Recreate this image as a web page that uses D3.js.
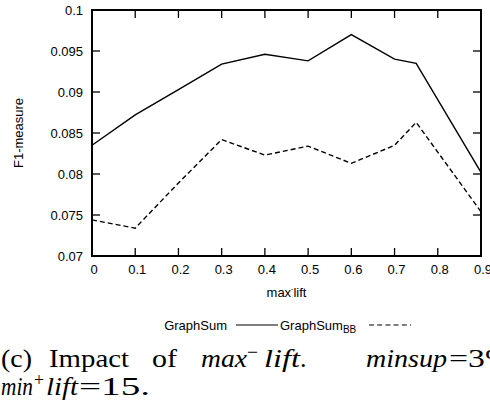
<!DOCTYPE html>
<html><head><meta charset="utf-8">
<script src="https://cdn.jsdelivr.net/npm/d3@7"></script>
<style>
html,body{margin:0;padding:0;background:#fff;overflow:hidden;}
svg{display:block;}
</style></head>
<body>
<script>
const xValues = [0, 0.1, 0.2, 0.3, 0.4, 0.5, 0.6, 0.7, 0.75, 0.9];
const graphSum = [0.0835, 0.0872, 0.0903, 0.0934, 0.0946, 0.0938, 0.0970, 0.0940, 0.0935, 0.0802];
const graphSumBB = [0.0744, 0.0734, 0.0789, 0.0842, 0.0823, 0.0834, 0.0813, 0.0835, 0.0863, 0.0754];
const xTicks = [0, 0.1, 0.2, 0.3, 0.4, 0.5, 0.6, 0.7, 0.8, 0.9];
const xTickLabels = ["0", "0.1", "0.2", "0.3", "0.4", "0.5", "0.6", "0.7", "0.8", "0.9"];
const yTicks = [0.07, 0.075, 0.08, 0.085, 0.09, 0.095, 0.1];
const yTickLabels = ["0.07", "0.075", "0.08", "0.085", "0.09", "0.095", "0.1"];

const W = 490, H = 407;
const m = {left: 92, right: 9, top: 10, bottom: 151};
const svg = d3.select("body").append("svg").attr("width", W).attr("height", H);
const x = d3.scaleLinear().domain([0, 0.9]).range([m.left, W - m.right]);
const y = d3.scaleLinear().domain([0.07, 0.1]).range([H - m.bottom, m.top]);
const sans = "'Liberation Sans', Arial, sans-serif";
const serif = "'Liberation Serif', 'Times New Roman', serif";
const tickLen = 8;

const axB = d3.axisBottom(x).tickValues(xTicks).tickSize(0).tickFormat((d,i)=>xTickLabels[i]);
const axL = d3.axisLeft(y).tickValues(yTicks).tickSize(0).tickFormat((d,i)=>yTickLabels[i]);
const gB = svg.append("g").attr("transform", `translate(0,${y(0.07)})`).call(axB);
gB.select(".domain").remove();
gB.selectAll("text").attr("font-family", sans).attr("font-size", 13).attr("fill", "#000").attr("dy", null).attr("y", 18).attr("x", 1.5);
const gL = svg.append("g").attr("transform", `translate(${x(0)},0)`).call(axL);
gL.select(".domain").remove();
gL.selectAll("text").attr("font-family", sans).attr("font-size", 13).attr("fill", "#000").attr("x", -9).attr("dy", "0.35em");

const ticks = svg.append("g").attr("stroke", "#000").attr("stroke-width", 1.3);
xTicks.forEach(v => {
  ticks.append("line").attr("x1", x(v)).attr("x2", x(v)).attr("y1", y(0.07)).attr("y2", y(0.07) - tickLen);
  ticks.append("line").attr("x1", x(v)).attr("x2", x(v)).attr("y1", y(0.1)).attr("y2", y(0.1) + tickLen);
});
yTicks.forEach(v => {
  ticks.append("line").attr("x1", x(0)).attr("x2", x(0) + tickLen).attr("y1", y(v)).attr("y2", y(v));
  ticks.append("line").attr("x1", x(0.9)).attr("x2", x(0.9) - tickLen).attr("y1", y(v)).attr("y2", y(v));
});

const line = d3.line().x((d,i)=>x(xValues[i])).y(d=>y(d));
svg.append("path").datum(graphSum).attr("d", line).attr("fill", "none").attr("stroke", "#000").attr("stroke-width", 1.4);
svg.append("path").datum(graphSumBB).attr("d", line).attr("fill", "none").attr("stroke", "#000").attr("stroke-width", 1.4).attr("stroke-dasharray", "5,3");

svg.append("rect").attr("x", x(0)).attr("y", y(0.1)).attr("width", x(0.9) - x(0)).attr("height", y(0.07) - y(0.1))
  .attr("fill", "none").attr("stroke", "#000").attr("stroke-width", 2);

const xt = svg.append("text").attr("x", (x(0)+x(0.9))/2).attr("y", 297).attr("text-anchor", "middle")
  .attr("font-family", sans).attr("font-size", 13);
xt.append("tspan").text("max");
xt.append("tspan").attr("dy", -6).attr("font-size", 7).text("-");
xt.append("tspan").attr("dy", 6).text("lift");
svg.append("text").attr("transform", `translate(23,${(y(0.07)+y(0.1))/2}) rotate(-90)`).attr("text-anchor", "middle")
  .attr("font-family", sans).attr("font-size", 13).text("F1-measure");

const lg = svg.append("g").attr("font-family", sans).attr("font-size", 13);
lg.append("text").attr("x", 227).attr("y", 330).attr("text-anchor", "end").text("GraphSum");
lg.append("line").attr("x1", 236).attr("x2", 278).attr("y1", 325).attr("y2", 325).attr("stroke", "#000").attr("stroke-width", 1.2);
const l2 = lg.append("text").attr("x", 280).attr("y", 330);
l2.append("tspan").text("GraphSum");
l2.append("tspan").attr("dy", 3).attr("font-size", 10).text("BB");
lg.append("line").attr("x1", 369).attr("x2", 411).attr("y1", 325).attr("y2", 325).attr("stroke", "#000").attr("stroke-width", 1.2).attr("stroke-dasharray", "5,3.2");

// caption pieces: [text, x, width, italic, superscript]
const cap = svg.append("g").attr("font-family", serif).attr("font-size", 26).attr("fill", "#000");
function piece(t, px, py, w, italic, sup) {
  const el = cap.append("text").attr("x", px).attr("y", sup ? py - 9 : py).text(t)
    .attr("font-style", italic ? "italic" : "normal");
  if (sup) el.attr("font-size", 18);
  if (w) el.attr("textLength", w).attr("lengthAdjust", "spacingAndGlyphs");
}
piece("(c)", 1, 367, 31, false, false);
piece("Impact", 49, 367, 80, false, false);
piece("of", 152, 367, 25, false, false);
piece("max", 201, 367, 46, true, false);
piece("\u2212", 247, 367, 11, false, true);
piece("lift", 264, 367, 36, true, false);
piece(".", 300, 367, null, false, false);
piece("minsup", 366, 367, 81, true, false);
piece("=3%", 449, 367, 64, false, false);
piece("min", 1, 395, 32, true, false);
piece("+", 34, 395, 10, false, true);
piece("lift", 46, 395, 32, true, false);
piece("=15.", 79, 395, 71, false, false);
</script>
</body></html>
